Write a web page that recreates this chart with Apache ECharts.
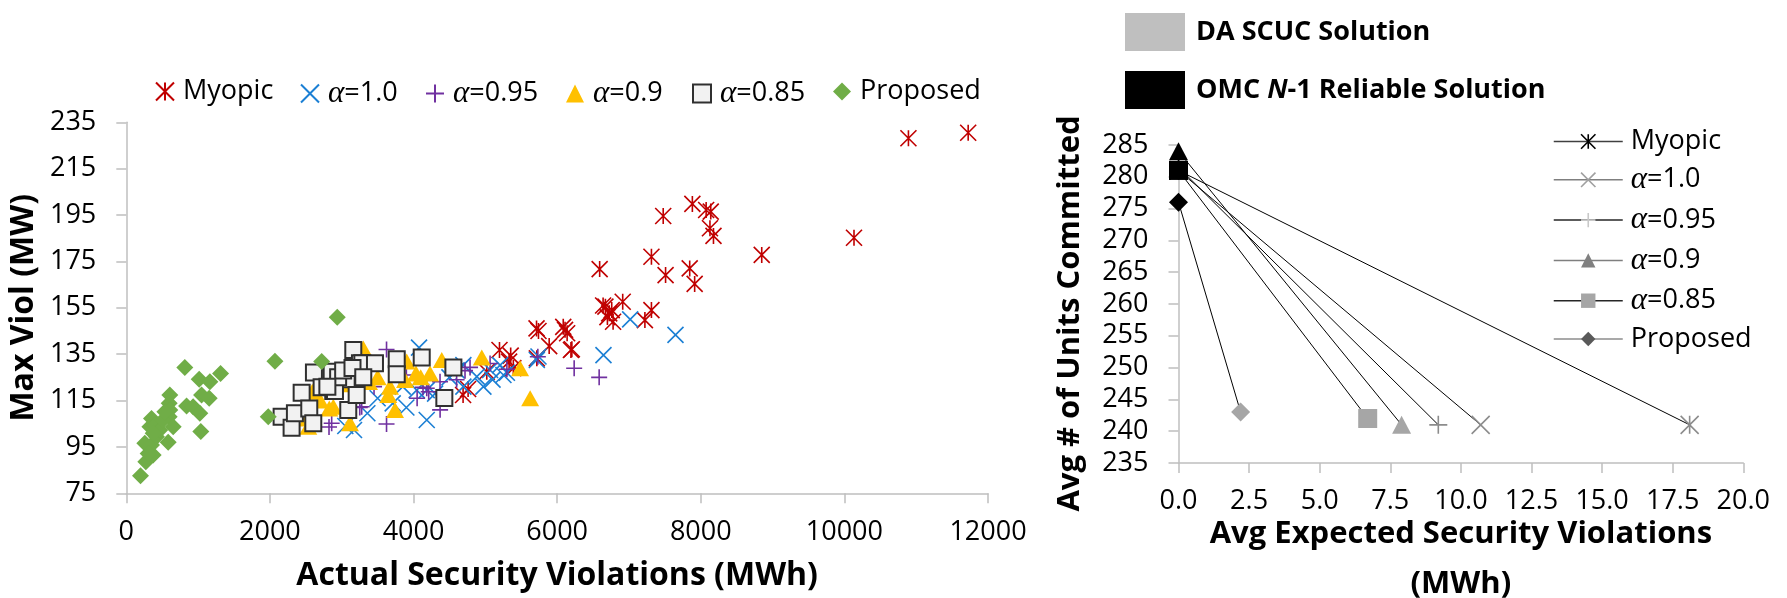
<!DOCTYPE html>
<html><head><meta charset="utf-8">
<script src="https://cdn.jsdelivr.net/npm/echarts@6/dist/echarts.min.js"></script>
<style>html,body{margin:0;padding:0;background:#fff}#c{width:1787px;height:598px}</style>
</head><body><div id="c"></div>
<script>
// ---------- Left chart data: [Actual Security Violations (MWh), Max Viol (MW)] ----------
const myopicPts = [[11724,230.5],[10892,228.1],[10134,185.2],[8849,177.8],[7883,199.8],[8075,197.2],[8139,196.5],[8128,189.3],[8177,186],[7477,194.6],[7313,177],[7510,169.1],[7846,172],[7915,165.3],[6592,171.7],[6672,155.5],[6725,152.6],[6779,149],[6913,157.6],[7313,154],[7222,149.7],[6700,151],[6760,154],[6640,156],[5713,146.1],[5740,145],[6085,146.8],[6110,145.5],[6139,144],[5889,138.5],[6192,136.8],[6205,137.1],[5197,136.8],[5331,131.8],[5390,129],[4690,117.4],[4760,120],[5020,127.4],[5717,133.2],[5353,134.4]];
const alpha10Pts = [[4077,137.8],[4184,106.6],[3357,109.5],[3171,102.3],[4184,119.5],[4694,121],[4973,121],[4881,125.3],[5066,128.2],[5206,130.3],[5252,126],[5717,132.5],[3710,113.8],[4044,119.5],[4694,130.3],[7017,150],[7648,143.3],[6645,134.6],[5300,127],[4500,125],[3900,112],[3500,116],[4300,118],[5100,124],[3050,104],[5740,134],[4600,128],[3850,121]];
const alpha095Pts = [[3624,137],[2823,103.6],[3251,112],[3624,104.9],[4370,111],[4211,118.8],[4184,120.3],[4369,123.1],[4717,127.9],[5066,131],[5731,133.9],[6237,128.9],[6585,125],[4132,120.7],[2860,105.2],[4787,129.3],[3900,126],[3450,121],[4600,124],[5300,128.5],[3278,112.3],[4050,116]];
const alpha09Pts = [[2534,103.7],[2827,111.6],[3115,105.2],[2590,118.8],[3300,137.5],[3742,110.9],[3649,117.4],[3672,121],[3882,123.9],[4035,126.7],[4230,126.7],[4393,132.5],[4950,133.6],[5484,128.9],[5624,116],[3905,131.8],[2883,112.3],[3380,123],[2525,107.3],[3500,125],[4100,125],[2700,115],[3050,122]];
const alpha085Pts = [[2163,108],[2302,103.3],[2348,109.5],[2442,118.4],[2548,111.6],[2604,105.2],[2613,127.1],[2720,120.7],[2860,127.4],[2882,119.1],[3069,124.2],[3161,136.8],[3091,110.9],[3208,117.4],[3254,131.1],[3287,131.1],[3463,131.1],[3766,132.8],[3766,126.3],[4114,133.6],[4555,129.2],[4429,116.1],[2906,119.1],[2950,125],[3020,128],[3150,129],[3300,125],[2800,121]];
const proposedPts = [[198,82.6],[272,88.6],[374,91.5],[258,96.6],[351,95.8],[420,99.4],[351,107.3],[328,103.7],[397,104.5],[467,102.3],[583,97],[606,117.4],[597,113.8],[606,110.9],[597,108],[653,103.7],[815,129.3],[839,112.6],[931,112.3],[1024,109.5],[1015,124.2],[1164,123.1],[1313,126.7],[1048,117.4],[1154,116],[1038,101.6],[2070,132],[1977,108],[2721,131.8],[2938,150.9],[513,106.6],[537,110.2],[374,100.9],[304,92.2]];
const leftXTicks = {min: 0, max: 12000, step: 2000};
const leftYTicks = {min: 75, max: 235, step: 20};

// ---------- Right chart data: [Avg Expected Security Violations (MWh), Avg # of Units Committed] ----------
// first point = OMC N-1 Reliable Solution, second point = DA SCUC Solution
const rMyopic = [[0,281],[18.1,241]];
const rAlpha10 = [[0,281],[10.7,241]];
const rAlpha095 = [[0,281.5],[9.2,241]];
const rAlpha09 = [[0,284],[7.9,241]];
const rAlpha085 = [[0,281],[6.7,242]];
const rProposed = [[0,276],[2.2,243]];
const rightXTicks = {min: 0, max: 20, step: 2.5};
const rightYTicks = {min: 235, max: 285, step: 5};

const seriesNames = ['Myopic','α=1.0','α=0.95','α=0.9','α=0.85','Proposed'];

// ---------- styling ----------
const FONT = 'Open Sans';
const AST = 'path://M0,0L20,20M20,0L0,20M10,0L10,20';
const XMK = 'path://M0,0L20,20M20,0L0,20';
const PLS = 'path://M10,0L10,20M0,10L20,10';
const axisGray = '#bfbfbf';
const richAlpha = {a: {fontFamily: 'Liberation Serif', fontStyle: 'italic', fontSize: 31, color: '#000', lineHeight: 24}};
const fmtAlpha = n => n.indexOf('α') === 0 ? '{a|α}' + n.slice(1) : n;

function baseAxis(t, extra) {
  return Object.assign({
    type: 'value', min: t.min, max: t.max, interval: t.step,
    axisLine: {show: true, lineStyle: {color: axisGray, width: 1.5}},
    axisTick: {show: true, inside: false, length: 10, lineStyle: {color: axisGray, width: 1.5}},
    splitLine: {show: false},
    axisLabel: {color: '#000', fontFamily: FONT, fontSize: 27, margin: 30},
    nameLocation: 'middle',
    nameTextStyle: {color: '#000', fontFamily: FONT, fontWeight: 'bold', fontSize: 32}
  }, extra);
}

const strokeStyle = c => ({color: 'rgba(0,0,0,0)', borderColor: c, borderWidth: 1.6, opacity: 1});

const leftSeries = [
  {name: 'Myopic', type: 'scatter', data: myopicPts, symbol: AST, symbolSize: 16, itemStyle: strokeStyle('#c00000')},
  {name: 'α=1.0', type: 'scatter', data: alpha10Pts, symbol: XMK, symbolSize: 16, itemStyle: strokeStyle('#1b7fd4')},
  {name: 'α=0.95', type: 'scatter', data: alpha095Pts, symbol: PLS, symbolSize: 16, itemStyle: strokeStyle('#7030a0')},
  {name: 'α=0.9', type: 'scatter', data: alpha09Pts, symbol: 'triangle', symbolSize: [18, 16], itemStyle: {color: '#ffc000', opacity: 1}},
  {name: 'α=0.85', type: 'scatter', data: alpha085Pts, symbol: 'rect', symbolSize: 16, itemStyle: {color: '#f2f2f2', borderColor: '#303030', borderWidth: 2, opacity: 1}},
  {name: 'Proposed', type: 'scatter', data: proposedPts, symbol: 'diamond', symbolSize: 17, itemStyle: {color: '#70ad47', opacity: 1}}
].map(s => Object.assign(s, {xAxisIndex: 0, yAxisIndex: 0}));

// right chart series
const rDefs = [
  {data: rMyopic, symbol: AST, size: 18, stroke: true, da: '#8c8c8c'},
  {data: rAlpha10, symbol: XMK, size: 18, stroke: true, da: '#8c8c8c'},
  {data: rAlpha095, symbol: PLS, size: 18, stroke: true, da: '#8c8c8c'},
  {data: rAlpha09, symbol: 'triangle', size: [19, 18], stroke: false, da: '#a6a6a6'},
  {data: rAlpha085, symbol: 'rect', size: 19, stroke: false, da: '#a6a6a6'},
  {data: rProposed, symbol: 'diamond', size: [19, 19], stroke: false, da: '#a6a6a6'}
];
const rightSeries = rDefs.map((d, i) => {
  const daStyle = d.stroke ? strokeStyle(d.da) : {color: d.da, opacity: 1};
  const omcStyle = d.stroke ? strokeStyle('#000') : {color: '#000', opacity: 1};
  return {
    name: 'R' + seriesNames[i], type: 'line', xAxisIndex: 1, yAxisIndex: 1,
    symbol: d.symbol, symbolSize: d.size, showSymbol: true,
    lineStyle: {color: '#000', width: 1},
    itemStyle: daStyle,
    data: [{value: d.data[0], itemStyle: omcStyle}, {value: d.data[1], itemStyle: daStyle}],
    z: 2 + i
  };
});
const dummy = [
  {name: 'DA SCUC Solution', type: 'scatter', xAxisIndex: 1, yAxisIndex: 1, data: [], itemStyle: {color: '#bfbfbf', opacity: 1}},
  {name: 'OMC N-1 Reliable Solution', type: 'scatter', xAxisIndex: 1, yAxisIndex: 1, data: [], itemStyle: {color: '#000', opacity: 1}}
];

// left legends positioned individually
const leftLegendLefts = [150, 295, 420, 561, 687, 828];
const leftLegends = seriesNames.map((n, i) => ({
  data: [n], left: leftLegendLefts[i], top: 73, itemWidth: 18, itemHeight: 18, selectedMode: false,
  formatter: fmtAlpha,
  textStyle: {fontFamily: FONT, fontSize: 27, color: '#000', lineHeight: 24, padding: [0, 0, 0, 4], rich: richAlpha}
}));

const rightLegendItems = [
  {name: 'RMyopic', lineStyle: {color: '#404040', width: 1.5}, itemStyle: strokeStyle('#000')},
  {name: 'Rα=1.0', lineStyle: {color: '#7f7f7f', width: 1.5}, itemStyle: strokeStyle('#a0a0a0')},
  {name: 'Rα=0.95', lineStyle: {color: '#262626', width: 1.5}, itemStyle: strokeStyle('#c8c8c8')},
  {name: 'Rα=0.9', lineStyle: {color: '#7f7f7f', width: 1.5}, itemStyle: {color: '#808080', opacity: 1}},
  {name: 'Rα=0.85', lineStyle: {color: '#262626', width: 1.5}, itemStyle: {color: '#a6a6a6', opacity: 1}},
  {name: 'RProposed', lineStyle: {color: '#8c8c8c', width: 1.5}, itemStyle: {color: '#595959', opacity: 1}}
];

const option = {
  animation: false,
  backgroundColor: '#fff',
  grid: [
    {left: 126.3, right: 1787 - 988, top: 122.3, bottom: 598 - 493.3, outerBoundsMode: 'none', containLabel: false},
    {left: 1178.5, right: 1787 - 1743.3, top: 145, bottom: 598 - 463, outerBoundsMode: 'none', containLabel: false}
  ],
  xAxis: [
    baseAxis(leftXTicks, {gridIndex: 0, name: 'Actual Security Violations (MWh)', nameGap: 67,
      axisLabel: {color: '#000', fontFamily: FONT, fontSize: 27, margin: 26, formatter: v => String(v)}}),
    baseAxis(rightXTicks, {gridIndex: 1, name: 'Avg Expected Security Violations\n(MWh)', nameGap: 46, nameMoveOverlap: false,
      nameTextStyle: {color: '#000', fontFamily: FONT, fontWeight: 'bold', fontSize: 31, lineHeight: 50},
      axisLabel: {color: '#000', fontFamily: FONT, fontSize: 27, margin: 25, formatter: v => v.toFixed(1)}})
  ],
  yAxis: [
    baseAxis(leftYTicks, {gridIndex: 0, name: 'Max Viol (MW)', nameGap: 86}),
    baseAxis(rightYTicks, {gridIndex: 1, name: 'Avg # of Units Committed', nameGap: 93,
      nameTextStyle: {color: '#000', fontFamily: FONT, fontWeight: 'bold', fontSize: 31, padding: [0, 19, 0, 0]}})
  ],
  legend: leftLegends.concat([
    {data: rightLegendItems, orient: 'vertical', left: 1548, top: 123, itemWidth: 69, itemHeight: 18, itemGap: 9.3, selectedMode: false,
      formatter: n => fmtAlpha(n.slice(1)),
      textStyle: {fontFamily: FONT, fontSize: 27, color: '#000', lineHeight: 24, padding: [0, 0, 0, 3], rich: richAlpha}},
    {data: [{name: 'DA SCUC Solution', icon: 'rect', itemStyle: {color: '#bfbfbf', opacity: 1}}], left: 1120, top: 8, itemWidth: 60, itemHeight: 38, selectedMode: false,
      textStyle: {fontFamily: FONT, fontWeight: 'bold', fontSize: 27, color: '#000', padding: [42, 0, 0, 6]}},
    {data: [{name: 'OMC N-1 Reliable Solution', icon: 'rect', itemStyle: {color: '#000', opacity: 1}}], left: 1120, top: 66, itemWidth: 60, itemHeight: 38, selectedMode: false,
      formatter: () => 'OMC {i|N}-1 Reliable Solution',
      textStyle: {fontFamily: FONT, fontWeight: 'bold', fontSize: 27, color: '#000', padding: [0, 0, 0, 6],
        rich: {i: {fontFamily: FONT, fontWeight: 'bold', fontStyle: 'italic', fontSize: 27, color: '#000'}}}}
  ]),
  series: leftSeries.concat(rightSeries, dummy)
};

const chart = echarts.init(document.getElementById('c'), null, {renderer: 'canvas'});
chart.setOption(option);
</script></body></html>
